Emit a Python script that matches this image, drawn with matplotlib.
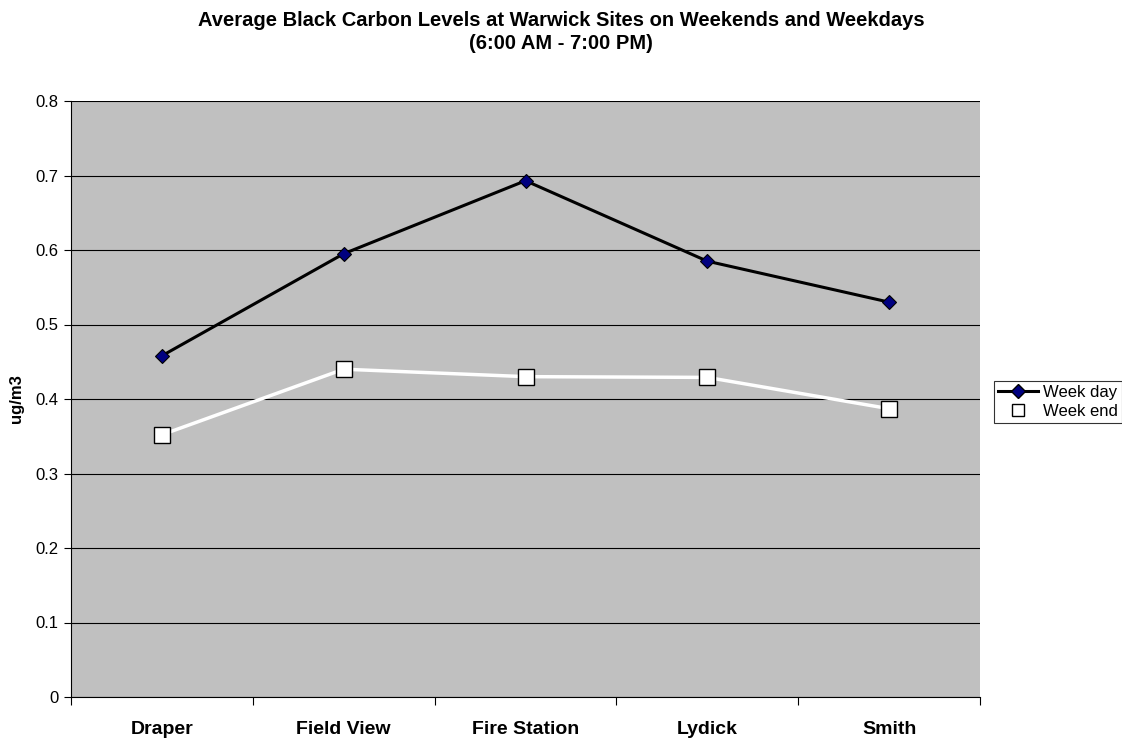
import matplotlib
matplotlib.use("Agg")
import matplotlib.pyplot as plt
from matplotlib.lines import Line2D

plt.rcParams['font.family'] = ['Liberation Sans', 'DejaVu Sans']

categories = ["Draper", "Field View", "Fire Station", "Lydick", "Smith"]
weekday = [0.458, 0.595, 0.693, 0.585, 0.530]
weekend = [0.352, 0.440, 0.430, 0.429, 0.387]
yticks = [0, 0.1, 0.2, 0.3, 0.4, 0.5, 0.6, 0.7, 0.8]

fig = plt.figure(figsize=(11.22, 7.40), dpi=100)
ax = fig.add_axes([71/1122, 43/740, (980-71)/1122, (697-101)/740])
ax.set_facecolor('#c0c0c0')

x = list(range(len(categories)))
ax.plot(x, weekday, color='black', lw=2.2, marker='D', markersize=7,
        markerfacecolor='#000080', markeredgecolor='black', markeredgewidth=0.8, zorder=3)
ax.plot(x, weekend, color='white', lw=2.5, marker='s', markersize=11,
        markerfacecolor='white', markeredgecolor='black', markeredgewidth=1.0, zorder=3)

ax.set_xlim(-0.5, len(categories) - 0.5)
ax.set_ylim(0, 0.8)
ax.set_yticks(yticks)
ax.set_yticklabels(["0" if v == 0 else f"{v:.1f}" for v in yticks], fontsize=12)
ax.yaxis.grid(True, color='black', lw=0.8)
ax.set_axisbelow(True)

ax.set_xticks([i - 0.5 for i in range(len(categories) + 1)])
ax.set_xticklabels([])
ax.set_xticks(x, minor=True)
ax.set_xticklabels(categories, minor=True, fontsize=14, fontweight='bold')
ax.tick_params(axis='x', which='minor', length=0, pad=17)
ax.tick_params(axis='x', which='major', length=6, direction='out')
ax.tick_params(axis='y', length=5, direction='out', pad=4)

for s in ['top', 'right']:
    ax.spines[s].set_visible(False)
for s in ['left', 'bottom']:
    ax.spines[s].set_color('black')

ax.set_ylabel("ug/m3", fontsize=12, fontweight='bold', labelpad=8)

fig.text(0.5, 1 - 32/740, "Average Black Carbon Levels at Warwick Sites on Weekends and Weekdays\n(6:00 AM - 7:00 PM)",
         ha='center', va='center', fontsize=14.5, fontweight='bold', linespacing=1.25)

handles = [
    Line2D([], [], color='black', lw=2.2, marker='D', markersize=7,
           markerfacecolor='#000080', markeredgecolor='black'),
    Line2D([], [], color='white', lw=0, marker='s', markersize=8.5,
           markerfacecolor='white', markeredgecolor='black'),
]
leg = fig.legend(handles, ["Week day", "Week end"], loc='center left',
                 bbox_to_anchor=(994/1122, 1 - 402/740), fontsize=12,
                 frameon=True, fancybox=False, edgecolor='black',
                 handlelength=2.4, handletextpad=0.3, borderpad=0.25,
                 labelspacing=0.25, borderaxespad=0)
leg.get_frame().set_linewidth(0.8)

fig.savefig("out.png", dpi=100)
